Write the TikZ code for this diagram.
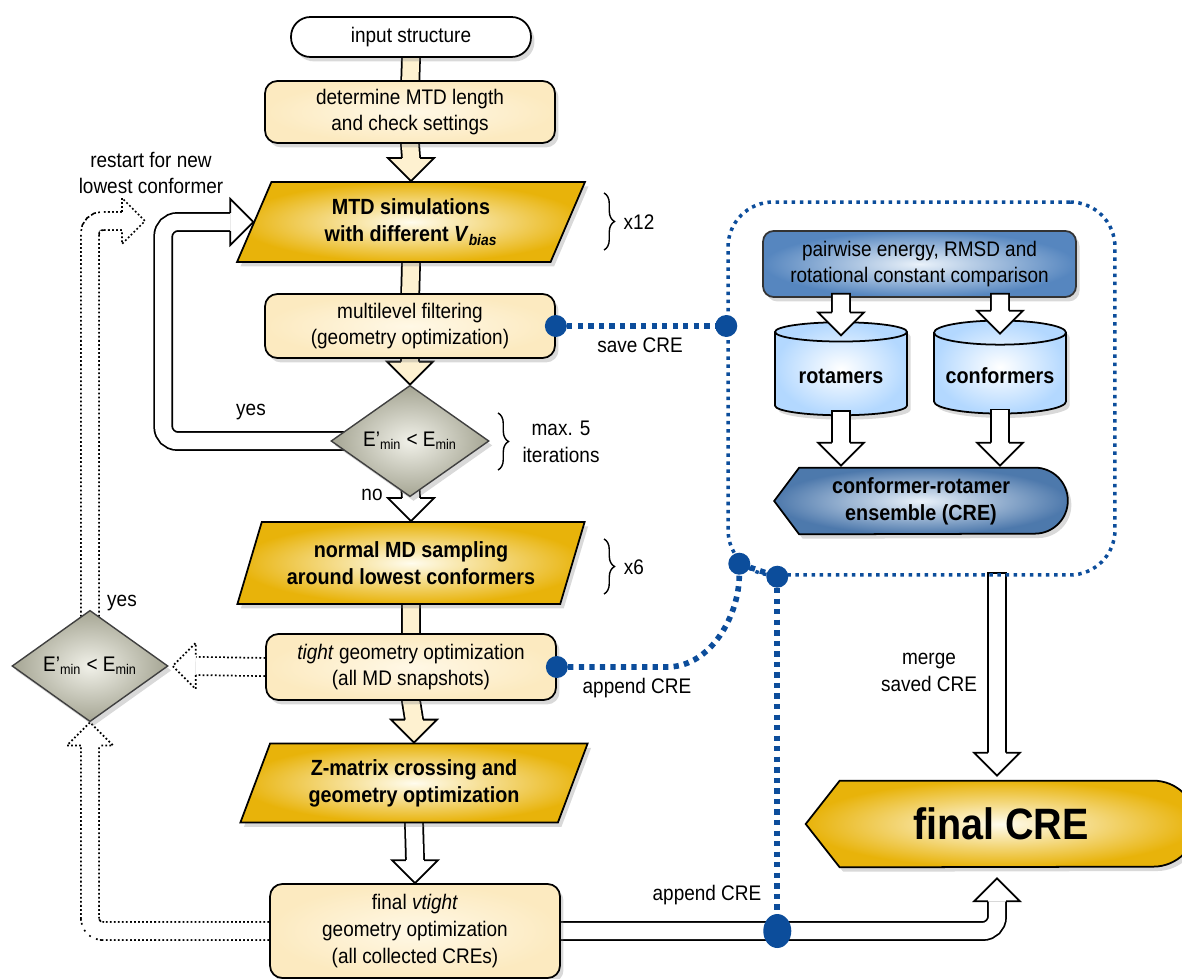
\documentclass[tikz,border=0pt]{standalone}
\usepackage{fontspec}
\setmainfont{Liberation Sans}[FakeStretch=0.9]
\usetikzlibrary{shapes.geometric,shadows,calc,backgrounds,decorations.pathreplacing}

\definecolor{boxhell}{HTML}{FFF8E6}
\definecolor{boxrand}{HTML}{FCEAC0}
\definecolor{schaft}{HTML}{FEF1D0}
\definecolor{goldhell}{HTML}{FFFCEE}
\definecolor{gold}{HTML}{E8B30A}
\definecolor{grauhell}{HTML}{F1F1E9}
\definecolor{grau}{HTML}{A5A593}
\definecolor{blauhell}{HTML}{EAF2FA}
\definecolor{blau}{HTML}{5686BF}
\definecolor{zyl}{HTML}{B3D8FF}
\definecolor{punktblau}{HTML}{0C4D9B}

% Pfeilkopf fuer die dicken Pfeile
\newcommand{\pfeilkopf}[4]{%
  \begin{scope}[shift={(#1)},rotate=#2]
    \fill[#3] (0,0) -- (-23,-23) -- (-23,23) -- cycle;
    \draw[line width=1pt,#4] (-23,-9.1) -- (-23,-23) -- (0,0) -- (-23,23) -- (-23,9.1);
  \end{scope}}

\begin{document}
\begin{tikzpicture}[x=0.02cm,y=-0.02cm,
    font=\fontsize{12}{15.3}\selectfont,
    schatten/.style={drop shadow={opacity=0.3,shadow xshift=2pt,shadow yshift=-2.5pt}},
    kasten/.style={rectangle,rounded corners=7pt,draw,line width=1pt,inner color=boxhell,outer color=boxrand,align=center,minimum width=5.8cm,schatten},
    schritt/.style={trapezium,trapezium left angle=68.8,trapezium right angle=111.2,trapezium stretches=true,draw,line width=1pt,inner color=goldhell,outer color=gold,align=center,font=\fontsize{12.5}{15.3}\selectfont\bfseries,minimum width=6.96cm,minimum height=1.6cm,schatten},
    abfrage/.style={diamond,draw=black!75,line width=0.8pt,inner color=grauhell,outer color=grau,minimum width=3.16cm,minimum height=1.56cm,inner sep=0pt,schatten},
    dickpfeil/.style={draw=black,line width=1pt,double=#1,double distance=9.3pt,line cap=rect},
    dickpfeil/.default=white,
    punktpfeil/.style={draw=white,line width=9.3pt,preaction={draw=black,line width=11.3pt,dash pattern=on 1pt off 1.3pt}},
    blaulinie/.style={punktblau,line width=3.2pt,dash pattern=on 3pt off 3pt},
    blaupunkt/.style={circle,fill=punktblau,inner sep=0pt,minimum size=0.44cm},
    klammer/.style={decorate,decoration={brace,amplitude=6pt},line width=0.8pt},
    ]
    \useasboundingbox (0,0) rectangle (1182,979);

    % Ablauf links
    \node[rectangle,rounded corners=0.39cm,draw,line width=1pt,fill=white,minimum width=4.8cm,minimum height=0.8cm,schatten] (input) at (411,37) {input structure};
    \node[kasten,minimum height=1.24cm] (det) at (410,112) {determine MTD length\\and check settings};
    \node[schritt] (mtd) at (411,222) {MTD simulations\\with different \textit{V}\textsubscript{\textit{bias}}};
    \node[kasten,minimum height=1.28cm] (mlf) at (410,326) {multilevel filtering\\(geometry optimization)};
    \node[abfrage] (d1) at (410,441) {E'\textsubscript{min} < E\textsubscript{min}};
    \node[schritt,minimum height=1.64cm] (nmd) at (411,563) {normal MD sampling\\around lowest conformers};
    \node[kasten,minimum height=1.32cm] (tight) at (411,667) {\textit{tight} geometry optimization\\(all MD snapshots)};
    \node[schritt,minimum height=1.58cm] (zmat) at (414,783) {Z-matrix crossing and\\geometry optimization};
    \node[kasten,minimum height=1.88cm] (vt) at (415,931) {final \textit{vtight}\\geometry optimization\\(all collected CREs)};
    \node[abfrage,minimum width=3.12cm,minimum height=1.58cm] (d2) at (90,666) {E'\textsubscript{min} < E\textsubscript{min}};

    % Kasten rechts
    \node[rectangle,rounded corners=0.9cm,draw=punktblau,line width=2pt,dash pattern=on 2pt off 2.6pt,minimum width=7.74cm,minimum height=7.46cm] (panel) at (921.5,388.5) {};
    \node[rectangle,rounded corners=6pt,draw=black!80,line width=1pt,inner color=blauhell,outer color=blau,minimum width=6.26cm,minimum height=1.32cm,align=center,schatten] (pair) at (919.5,264) {pairwise energy, RMSD and\\rotational constant comparison};
    \node[cylinder,shape border rotate=90,aspect=0.2,draw,line width=1pt,inner color=white,outer color=zyl,minimum width=2.64cm,minimum height=1.86cm,font=\fontsize{12.5}{15.3}\selectfont\bfseries,schatten] (rot) at (841,376) {rotamers};
    \node[cylinder,shape border rotate=90,aspect=0.2,draw,line width=1pt,inner color=white,outer color=zyl,minimum width=2.64cm,minimum height=1.86cm,font=\fontsize{12.5}{15.3}\selectfont\bfseries,schatten] (conf) at (1000,376) {conformers};
    \node[align=center,font=\fontsize{12.5}{15.3}\selectfont\bfseries,minimum width=5.86cm,minimum height=1.32cm] (cre) at (921,501) {conformer-rotamer\\ensemble (CRE)};
    \node[font=\fontsize{25}{30}\selectfont\bfseries,minimum width=7.8cm,minimum height=1.72cm] (fin) at (1001,824) {final CRE};

    % Hilfspunkte
    \coordinate (mtdl) at ($(mtd.top left corner)!0.5!(mtd.bottom left corner)$);
    \coordinate (d2r) at ($(d2.east)+(4,0)$);
    \coordinate (neustart) at (145,221);
    \coordinate (finunten) at ($(fin.south)+(-4,11)$);
    \coordinate (finoben) at ($(fin.north)+(-4,-5)$);

    \begin{scope}[on background layer]
        % Formen hinter Text
        \draw[line width=1pt,inner color=blauhell,outer color=blau!90!black,schatten] (cre.west) -- ($(cre.north west)+(25,0)$) -- ($(cre.north east)+(-33,0)$) arc(-90:90:33) -- ($(cre.south west)+(25,0)$) -- cycle;
        \draw[line width=1pt,inner color=goldhell,outer color=gold,schatten] (fin.west) -- ($(fin.north west)+(34,0)$) -- ($(fin.north east)+(-43,0)$) arc(-90:90:43) -- ($(fin.south west)+(34,0)$) -- cycle;

        % Hauptpfeile
        \draw[dickpfeil=schaft] (input.south) -- ($(det.north)+(0,10)$);
        \draw[dickpfeil=schaft] (det.south) -- ($(mtd.north)+(0,-23)$);
        \pfeilkopf{mtd.north}{-90}{schaft}{}
        \draw[dickpfeil=schaft] (mtd.south) -- ($(mlf.north)+(0,10)$);
        \draw[dickpfeil=schaft] (mlf.south) -- ($(d1.north)+(0,-23)$);
        \pfeilkopf{d1.north}{-90}{schaft}{}
        \draw[dickpfeil] ($(d1.south)+(0,-15)$) -- ($(nmd.north)+(0,-23)$);
        \pfeilkopf{nmd.north}{-90}{white}{}
        \draw[dickpfeil=schaft] (nmd.south) -- ($(tight.north)+(0,10)$);
        \draw[dickpfeil=schaft] (tight.south) -- ($(zmat.north)+(0,-23)$);
        \pfeilkopf{zmat.north}{-90}{schaft}{}
        \draw[dickpfeil] (zmat.south) -- ($(vt.north)+(0,-23)$);
        \pfeilkopf{vt.north}{-90}{white}{}

        % Schleifen
        \draw[dickpfeil,line cap=butt,rounded corners=8pt] ($(d1.west)+(18,0)$) -| ($(mtdl)+(-90,0)$) -- ($(mtdl)+(-23,0)$);
        \pfeilkopf{mtdl}{0}{white}{}
        \draw[punktpfeil] (tight.west) -- ($(d2r)+(23,0)$);
        \pfeilkopf{d2r}{180}{white}{dash pattern=on 1pt off 1.3pt}
        \draw[punktpfeil,rounded corners=7pt] (vt.west) -| ($(d2.south)+(0,23)$);
        \pfeilkopf{d2.south}{90}{white}{dash pattern=on 1pt off 1.3pt}
        \draw[punktpfeil,rounded corners=7pt] ($(d2.north)+(0,15)$) |- ($(neustart)+(-23,0)$);
        \pfeilkopf{neustart}{0}{white}{dash pattern=on 1pt off 1.3pt}

        % Pfeile zum Ergebnis
        \draw[dickpfeil,line cap=butt,rounded corners=8pt] (vt.east) -| ($(finunten)+(0,23)$);
        \pfeilkopf{finunten}{90}{white}{}
        \draw[dickpfeil] ($(panel.south -| finoben)+(0,5)$) -- ($(finoben)+(0,-23)$);
        \pfeilkopf{finoben}{-90}{white}{}
    \end{scope}

    % Pfeile im Kasten
    \draw[dickpfeil] ($(pair.south -| rot)+(0,5)$) -- ($(rot.north)+(0,-9)$);
    \pfeilkopf{$(rot.north)+(0,14)$}{-90}{white}{}
    \draw[dickpfeil] ($(pair.south -| conf)+(0,5)$) -- ($(conf.north)+(0,-9)$);
    \pfeilkopf{$(conf.north)+(0,14)$}{-90}{white}{}
    \draw[dickpfeil] ($(rot.south)+(0,4)$) -- ($(rot.south |- cre.north)+(0,-25)$);
    \pfeilkopf{$(rot.south |- cre.north)+(0,-2)$}{-90}{white}{}
    \draw[dickpfeil] ($(conf.south)+(0,4)$) -- ($(conf.south |- cre.north)+(0,-25)$);
    \pfeilkopf{$(conf.south |- cre.north)+(0,-2)$}{-90}{white}{}

    % blaue Verbindungen
    \node[blaupunkt] (p1) at (mlf.east) {};
    \node[blaupunkt] (p2) at (panel.west |- mlf.east) {};
    \node[blaupunkt] (p3) at ($(panel.south west)+(13,-13)$) {};
    \node[blaupunkt] (p4) at ($(panel.south west)+(51,0)$) {};
    \node[blaupunkt] (p5) at (tight.east) {};
    \node[ellipse,fill=punktblau,inner sep=0pt,minimum width=0.56cm,minimum height=0.68cm] (p6) at (p4 |- vt.east) {};
    \draw[blaulinie] (p1) -- (p2);
    \draw[blaulinie] (p3) -- (p4);
    \draw[blaulinie] (p5) -- ++(110,0) .. controls +(45,0) and +(0,50) .. (p3);
    \draw[blaulinie] (p4) -- (p6);

    % Beschriftungen
    \node[align=center] (restart) at (151,173) {restart for new\\lowest conformer};
    \node (ja1) at (251,412) {yes};
    \node (nein) at (372,495) {no};
    \node (ja2) at (122,603) {yes};
    \node (x12) at (639,222) {x12};
    \node[align=center] (maxit) at (561,442) {max. 5\\iterations};
    \node (x6) at (634,567) {x6};
    \node (save) at (640,345) {save CRE};
    \node (app1) at (637,688) {append CRE};
    \node (app2) at (707,895) {append CRE};
    \node[align=center] (merge) at (929,672) {merge\\saved CRE};

    % Klammern
    \draw[klammer] (604,193) -- (604,250);
    \draw[klammer] (498,413) -- (498,470);
    \draw[klammer] (604,539) -- (604,594);
\end{tikzpicture}
\end{document}
